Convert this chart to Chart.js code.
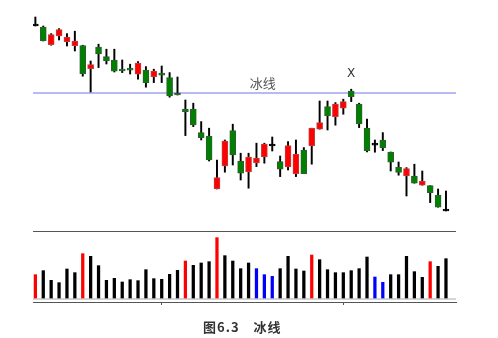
<!DOCTYPE html>
<html>
<head>
<meta charset="utf-8">
<script src="https://cdn.jsdelivr.net/npm/chart.js@4.4.1/dist/chart.umd.min.js"></script>
<style>
  html, body { margin: 0; padding: 0; background: #fff; }
  #wrap { position: relative; width: 498px; height: 338px; }
  #caption {
    position: absolute; left: 203px; top: 317px;
    font: bold 13px "Noto Sans CJK SC", sans-serif;
    letter-spacing: 1px; color: #333; white-space: pre;
  }
</style>
</head>
<body>
<div id="wrap">
  <canvas id="chart" width="498" height="338"></canvas>
  <div id="caption">图6.3　冰线</div>
</div>
<script>
// candle data, one entry per day
const opens  = [28.70, 28.64, 27.77, 28.20, 27.92, 27.72, 27.72, 26.57, 27.64, 27.17,
                27.00, 26.55, 26.54, 26.29, 26.50, 26.17, 26.30, 26.12, 25.29, 24.54,
                24.55, 23.37, 23.20, 20.55, 21.70, 23.47, 21.94, 21.40, 21.85, 22.15,
                22.70, 21.92, 21.65, 21.32, 22.50, 22.70, 23.54, 24.67, 24.17, 24.59,
                25.45, 24.79, 23.59, 22.74, 23.00, 22.40, 21.63, 21.20, 21.20, 20.74,
                20.72, 20.25, 19.45];
const highs  = [29.15, 28.70, 28.32, 28.57, 28.32, 28.44, 27.74, 26.95, 27.79, 27.54,
                27.54, 27.00, 26.79, 26.92, 26.67, 26.54, 26.70, 26.37, 26.15, 25.00,
                24.84, 23.92, 23.59, 22.00, 23.00, 23.79, 22.34, 22.34, 22.84, 22.84,
                23.15, 22.20, 22.92, 23.00, 22.62, 23.59, 24.95, 24.95, 24.87, 25.04,
                25.54, 24.84, 24.04, 23.00, 23.37, 22.40, 21.90, 21.62, 21.79, 21.45,
                20.72, 20.55, 20.45];
const lows   = [28.70, 27.95, 27.74, 28.00, 27.70, 27.45, 26.19, 25.40, 26.62, 26.80,
                26.40, 26.37, 26.30, 26.04, 25.64, 25.87, 25.87, 25.14, 25.25, 23.22,
                23.67, 23.00, 21.95, 20.55, 21.39, 21.75, 21.00, 20.59, 21.67, 21.84,
                22.45, 21.17, 21.50, 21.17, 21.32, 21.79, 23.54, 23.50, 23.74, 24.29,
                24.92, 23.62, 22.40, 22.39, 22.47, 21.45, 21.24, 20.20, 20.84, 20.74,
                19.87, 19.64, 19.45];
const closes = [28.70, 27.97, 28.27, 28.52, 28.14, 27.94, 26.32, 26.77, 27.30, 26.97,
                26.44, 26.45, 26.49, 26.84, 25.87, 26.45, 26.24, 25.20, 25.25, 24.42,
                23.75, 23.12, 22.00, 21.12, 22.95, 22.25, 21.34, 22.15, 22.09, 22.80,
                22.70, 21.54, 22.72, 22.29, 21.32, 23.59, 23.87, 24.20, 24.79, 24.92,
                25.17, 23.80, 22.47, 22.74, 22.62, 21.89, 21.38, 21.57, 20.84, 20.94,
                20.37, 19.64, 19.45];

const volumes = [70, 82, 53, 46, 87, 76, 133, 125, 97, 53,
                 59, 48, 55, 52, 85, 58, 56, 71, 83, 111,
                 98, 105, 109, 181, 127, 111, 88, 105, 88, 70,
                 65, 88, 125, 87, 81, 129, 115, 85, 76, 76,
                 82, 88, 123, 63, 47, 70, 70, 125, 79, 62,
                 109, 95, 118];
// r = red, k = black, b = blue
const volTypes = ['r','k','k','k','k','k','r','k','k','k',
                  'k','k','k','k','k','k','k','k','k','r',
                  'k','k','k','r','k','k','k','k','b','b',
                  'b','k','k','k','k','r','k','k','k','k',
                  'k','k','k','b','b','k','k','k','k','k',
                  'r','k','k'];

const iceLevel = 25.35;     // the "ice line"
const iceLabel = '冰线';
const markDay = 40;         // day marked with X
const xTicks = [16, 39];
const volPanelTop = 202;    // top of the volume panel, in volume units

const days = opens.map((_, i) => i);

const volColor = { r: '#ff0000', k: '#000000', b: '#0000ff' };
const bodyColor = i => closes[i] > opens[i] ? '#ff0000' : (closes[i] < opens[i] ? '#008000' : '#000000');
const bodyBorder = i => closes[i] > opens[i] ? '#c04040' : (closes[i] < opens[i] ? '#2f5f2f' : '#000000');

const overlay = {
  id: 'overlay',
  beforeDatasetsDraw(chart) {
    const { ctx, chartArea, scales } = chart;
    const yv = scales.yv;
    ctx.save();
    // panel separator
    let y = Math.round(yv.getPixelForValue(volPanelTop)) + 0.5;
    ctx.strokeStyle = '#555';
    ctx.lineWidth = 1;
    ctx.beginPath(); ctx.moveTo(chartArea.left, y); ctx.lineTo(chartArea.right, y); ctx.stroke();
    // volume baseline
    y = yv.getPixelForValue(0) + 1;
    ctx.strokeStyle = '#d4d4d4';
    ctx.lineWidth = 2;
    ctx.beginPath(); ctx.moveTo(chartArea.left, y); ctx.lineTo(chartArea.right, y); ctx.stroke();
    ctx.restore();
  },
  afterDatasetsDraw(chart) {
    const { ctx, scales } = chart;
    ctx.save();
    ctx.textAlign = 'center';
    ctx.textBaseline = 'middle';
    ctx.fillStyle = '#555';
    ctx.font = '13px "Noto Sans CJK SC", sans-serif';
    ctx.fillText(iceLabel, scales.x.getPixelForValue(28.8), scales.y.getPixelForValue(iceLevel) - 10);
    ctx.fillStyle = '#333';
    ctx.font = '12px "DejaVu Sans", sans-serif';
    ctx.fillText('X', scales.x.getPixelForValue(markDay), scales.y.getPixelForValue(highs[markDay]) - 15);
    ctx.restore();
  }
};

new Chart(document.getElementById('chart'), {
  type: 'bar',
  data: {
    labels: days,
    datasets: [
      {
        type: 'line',
        data: [{ x: -0.3, y: iceLevel }, { x: 53.27, y: iceLevel }],
        borderColor: '#7373e6',
        borderWidth: 1,
        pointRadius: 0,
        yAxisID: 'y',
        order: 3
      },
      {
        data: days.map(i => ({ x: i, y: [lows[i], highs[i]] })),
        backgroundColor: '#000',
        barThickness: 1.3,
        grouped: false,
        yAxisID: 'y',
        order: 1
      },
      {
        data: days.map(i => ({ x: i, y: [opens[i], closes[i]] })),
        backgroundColor: ctx => bodyColor(ctx.dataIndex),
        borderColor: ctx => bodyBorder(ctx.dataIndex),
        borderWidth: 1,
        borderSkipped: false,
        barThickness: 6,
        minBarLength: 2,
        grouped: false,
        yAxisID: 'y',
        order: 0
      },
      {
        data: days.map(i => ({ x: i, y: volumes[i] })),
        backgroundColor: days.map(i => volColor[volTypes[i]]),
        barThickness: 2.6,
        grouped: false,
        yAxisID: 'yv',
        order: 2
      }
    ]
  },
  options: {
    responsive: false,
    animation: false,
    layout: { padding: { left: 33, right: 42, top: 10, bottom: 33 } },
    plugins: { legend: { display: false }, tooltip: { enabled: false } },
    scales: {
      x: {
        type: 'linear',
        min: -0.3,
        max: 53.27,
        offset: false,
        afterBuildTicks: s => { s.ticks = xTicks.map(v => ({ value: v })); },
        grid: { display: true, drawOnChartArea: false, offset: false, tickLength: 3, color: '#555' },
        border: { display: true, color: '#555', width: 1 },
        ticks: { display: false }
      },
      y: { display: false, min: 14.9, max: 29.5 },
      yv: { display: false, min: -12, max: 864 }
    }
  },
  plugins: [overlay]
});
</script>
</body>
</html>
